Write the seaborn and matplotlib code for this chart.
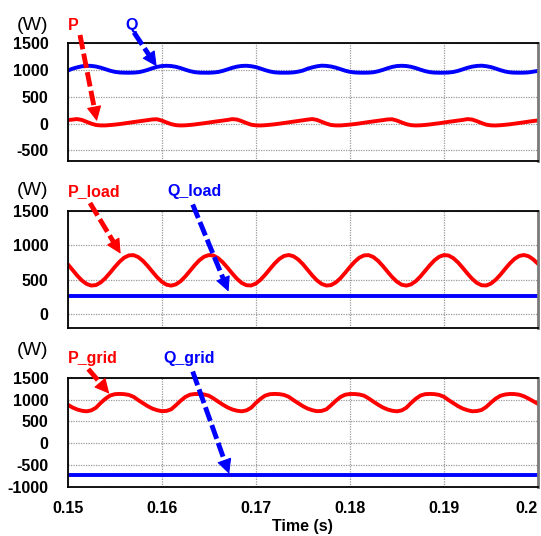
import numpy as np
import pandas as pd
import matplotlib
matplotlib.use("Agg")
import matplotlib.pyplot as plt
import seaborn as sns

# ---------------- data ----------------
time_s = np.round(np.arange(150.0, 200.01, 0.5) / 1000.0, 5)  # sample instants (s)

P_top = [65, 74, 84, 68, 33, -1, -27, -35, -35, -28, -20, -10, 2, 15, 28, 40, 52, 64, 77, 80,
         56, 21, -11, -30, -36, -33, -26, -17, -5, 6, 19, 32, 44, 56, 68, 83, 75, 45, 10, -21,
         -34, -36, -31, -23, -14, -2, 10, 23, 36, 48,
         61, 74, 84, 68, 33, -1, -27, -35, -35, -28, -20, -10, 2, 15, 28, 40, 52, 64, 77, 80,
         56, 21, -11, -30, -36, -33, -26, -17, -5, 6, 19, 32, 44, 56, 68, 83, 75, 45, 10, -21,
         -34, -36, -31, -23, -14, -2, 10, 23, 36, 48, 58]

Q_top = [990, 1025, 1050, 1070, 1080, 1078, 1066, 1045, 1017, 988, 967, 955, 951, 950, 952,
         959, 977, 1003, 1033, 1059, 1075, 1080, 1075, 1061, 1037, 1007, 980, 961, 952, 950,
         950, 954, 964, 985, 1013, 1042, 1064, 1077, 1080, 1072, 1055, 1028, 998, 973, 957,
         951, 950, 951, 956, 970,
         990, 1025, 1050, 1070, 1082, 1078, 1066, 1045, 1017, 988, 967, 955, 951, 950, 952,
         959, 977, 1003, 1033, 1059, 1075, 1080, 1075, 1061, 1037, 1007, 980, 961, 952, 950,
         950, 954, 964, 985, 1013, 1042, 1064, 1077, 1082, 1072, 1055, 1028, 998, 973, 957,
         951, 950, 951, 956, 970, 985]

P_load = [726, 644, 562, 490, 439, 415, 422, 460, 522, 600, 683, 759, 819, 852, 856, 828,
          773, 699, 617, 537, 471, 428, 414, 432, 478, 547, 628, 710, 782, 833, 857, 850,
          812, 750, 672, 589, 513, 453, 420, 416, 444, 499, 572, 655, 735, 801, 844, 858,
          840, 794,
          726, 644, 562, 490, 439, 415, 422, 460, 522, 600, 683, 759, 819, 852, 856, 828,
          773, 699, 617, 537, 471, 428, 414, 432, 478, 547, 628, 710, 782, 833, 857, 850,
          812, 750, 672, 589, 513, 453, 420, 416, 444, 499, 572, 655, 735, 801, 844, 858,
          840, 794, 730]

P_grid = [881, 818, 772, 742, 729, 750, 810, 920, 1016, 1090, 1122, 1128, 1123, 1105, 1062,
          986, 916, 848, 792, 755, 732,
          738, 775, 868, 970, 1058, 1110, 1126, 1126, 1115, 1088, 1025, 951, 881, 818, 772, 742,
          729, 750, 810, 920, 1016, 1090, 1122, 1128, 1123, 1105, 1062, 986, 916, 848, 792,
          755, 732,
          738, 775, 868, 970, 1058, 1110, 1126, 1126, 1115, 1088, 1025, 951, 881, 818, 772, 742,
          729, 750, 810, 920, 1016, 1090, 1122, 1128, 1123, 1105, 1062, 986, 916, 848, 792, 755,
          730, 735, 760, 830, 930, 1020, 1085, 1115, 1127, 1125, 1110, 1075, 1020, 960, 900]

flat_t = [0.15, 0.20]
Q_load = [265, 265]
Q_grid = [-725, -725]

x_ticks = [0.15, 0.16, 0.17, 0.18, 0.19, 0.20]
x_tick_labels = ["0.15", "0.16", "0.17", "0.18", "0.19", "0.2"]
y_ticks_top = [-500, 0, 500, 1000, 1500]
y_ticks_mid = [0, 500, 1000, 1500]
y_ticks_bot = [-1000, -500, 0, 500, 1000, 1500]

assert len(P_top) == len(Q_top) == len(P_load) == len(P_grid) == len(time_s)

# ---------------- style ----------------
sns.set_theme(style="white")
plt.rcParams["font.family"] = ["Liberation Sans", "DejaVu Sans"]

RED = "#ff0000"
BLUE = "#0000ff"
W, H = 541, 536

fig = plt.figure(figsize=(W / 100, H / 100), dpi=100)

def px_axes(left, top, right, bottom):
    return fig.add_axes([left / W, 1 - bottom / H, (right - left) / W, (bottom - top) / H])

ax1 = px_axes(67.7, 43.3, 538, 161)
ax2 = px_axes(67.7, 210.7, 538, 328)
ax3 = px_axes(67.7, 377.7, 538, 486.7)

def style(ax, ylim, yticks, show_x):
    ax.set_xlim(0.15, 0.20)
    ax.set_ylim(*ylim)
    ax.set_xticks(x_ticks)
    ax.set_yticks(yticks)
    ax.set_yticklabels([str(v) for v in yticks], fontsize=11.5, fontweight="bold")
    if show_x:
        ax.set_xticklabels(x_tick_labels, fontsize=11.5, fontweight="bold")
        ax.get_xticklabels()[-1].set_horizontalalignment("right")
    else:
        ax.set_xticklabels([])
    ax.tick_params(axis="both", length=0, colors="black")
    ax.tick_params(axis="y", pad=14)
    ax.tick_params(axis="x", pad=10)
    ax.grid(True, linestyle=(0, (1, 1)), color="#9a9a9a", linewidth=0.9)
    for s in ["top", "left", "bottom"]:
        ax.spines[s].set_color("black")
        ax.spines[s].set_linewidth(1.3)
    ax.spines["right"].set_color("#7a7a7a")
    ax.spines["right"].set_linewidth(2.0)
    ax.set_xlabel("")
    ax.set_ylabel("")

def series(ax, t, v, color):
    sns.lineplot(x=t, y=v, ax=ax, color=color, linewidth=2.8, legend=False, sort=False)

series(ax1, time_s, Q_top, BLUE)
series(ax1, time_s, P_top, RED)
series(ax2, time_s, P_load, RED)
series(ax2, flat_t, Q_load, BLUE)
series(ax3, time_s, P_grid, RED)
series(ax3, flat_t, Q_grid, BLUE)

style(ax1, (-700, 1500), y_ticks_top, False)
style(ax2, (-200, 1500), y_ticks_mid, False)
style(ax3, (-1000, 1500), y_ticks_bot, True)

HEAD_LEN = 13.0   # px
HEAD_HALF = 6.5   # px

def arrow(ax, tip, tail_px, color):
    # tip in data coords, tail in pixels from top-left of the figure
    tip_d = ax.transData.transform(tip)
    tail_d = np.array([tail_px[0], H - tail_px[1]], dtype=float)
    vec = tip_d - tail_d
    u = vec / np.hypot(*vec)
    base = tip_d - u * HEAD_LEN
    line_end = tip_d - u * HEAD_LEN * 0.5
    ax.annotate("", xy=tuple(line_end), xycoords="figure pixels",
                xytext=tuple(tail_d), textcoords="figure pixels",
                arrowprops=dict(arrowstyle="-", color=color, lw=3.5,
                                linestyle=(0, (3.0, 0.9)), shrinkA=0, shrinkB=0,
                                capstyle="butt"),
                annotation_clip=False)
    pt = 72.0 / 100.0
    ax.annotate("", xy=tuple(tip_d), xycoords="figure pixels",
                xytext=tuple(base), textcoords="figure pixels",
                arrowprops=dict(arrowstyle="-|>,head_length=%.2f,head_width=%.2f"
                                % (HEAD_LEN * pt, HEAD_HALF * pt),
                                color=color, lw=0.8, shrinkA=0, shrinkB=0,
                                mutation_scale=1),
                annotation_clip=False)

arrow(ax1, (0.1531, 45), (80, 35), RED)
arrow(ax1, (0.15946, 1067), (134, 32.5), BLUE)
arrow(ax2, (0.15563, 876), (90, 203), RED)
arrow(ax2, (0.1671, 328), (192.7, 204.5), BLUE)
arrow(ax3, (0.15442, 1133), (88.3, 369), RED)
arrow(ax3, (0.16717, -707), (192.7, 371.5), BLUE)

def label(xp, yp, s, color, size=11.5, weight="bold", ha="left"):
    fig.text(xp / W, 1 - yp / H, s, color=color, fontsize=size, fontweight=weight,
             ha=ha, va="baseline")

label(68, 30, "P", RED)
label(125, 30, "Q", BLUE)
label(68, 196, "P_load", RED)
label(167, 196, "Q_load", BLUE)
label(68, 363, "P_grid", RED)
label(163, 363, "Q_grid", BLUE)

for yb in (30.5, 195, 355):
    label(17, yb, "(W)", "black", size=14, weight="normal")

label(302.5, 531.5, "Time (s)", "black", size=11.5, weight="bold", ha="center")

fig.savefig("out.png", dpi=100)
